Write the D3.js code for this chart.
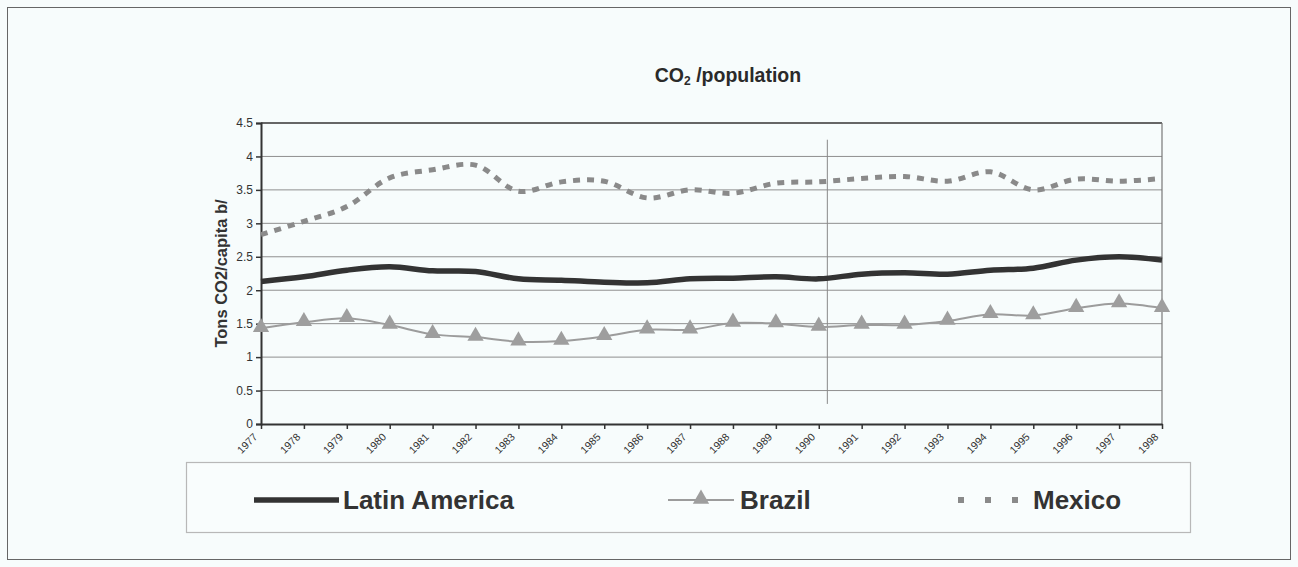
<!DOCTYPE html>
<html>
<head>
<meta charset="utf-8">
<script src="https://cdn.jsdelivr.net/npm/d3@7"></script>
<style>
  html, body { margin: 0; padding: 0; background: #f7fcfc; }
  svg { display: block; }
</style>
</head>
<body>
<svg id="chart" width="1298" height="567"></svg>
<script>
// Years on the category axis
const years = [1977, 1978, 1979, 1980, 1981, 1982, 1983, 1984, 1985, 1986, 1987,
               1988, 1989, 1990, 1991, 1992, 1993, 1994, 1995, 1996, 1997, 1998];

// Tons of CO2 per capita
const latinAmerica = [2.13, 2.20, 2.30, 2.35, 2.29, 2.28, 2.17, 2.15, 2.12, 2.11, 2.17,
                      2.18, 2.20, 2.17, 2.24, 2.26, 2.24, 2.30, 2.33, 2.45, 2.50, 2.45];
const brazil       = [1.43, 1.52, 1.58, 1.48, 1.34, 1.30, 1.23, 1.24, 1.31, 1.41, 1.41,
                      1.51, 1.50, 1.45, 1.48, 1.48, 1.54, 1.64, 1.62, 1.73, 1.80, 1.73];
const mexico       = [2.83, 3.03, 3.25, 3.68, 3.80, 3.87, 3.48, 3.62, 3.63, 3.38, 3.50,
                      3.45, 3.60, 3.62, 3.67, 3.70, 3.63, 3.77, 3.50, 3.66, 3.63, 3.67];

const yTicks = [0, 0.5, 1, 1.5, 2, 2.5, 3, 3.5, 4, 4.5];
const yTickLabels = ["0", "0.5", "1", "1.5", "2", "2.5", "3", "3.5", "4", "4.5"];

// Position of the thin vertical separator, in axis units (year index)
const dividerIndex = 13.2;

const seriesNames = ["Latin America", "Brazil", "Mexico"];

const svg = d3.select("#chart");
const font = "Liberation Sans, Arial, sans-serif";

// Outer frame
svg.append("rect")
  .attr("x", 7.5).attr("y", 7.5).attr("width", 1283).attr("height", 552)
  .attr("fill", "#f7fcfc").attr("stroke", "#666").attr("stroke-width", 1);

// Title
const title = svg.append("text")
  .attr("x", 728).attr("y", 82)
  .attr("text-anchor", "middle")
  .attr("font-family", font)
  .attr("font-weight", "bold").attr("font-size", 19.5).attr("fill", "#2a2a2a");
title.append("tspan").text("CO");
title.append("tspan").attr("font-size", 12).attr("dy", 3).text("2");
title.append("tspan").attr("dy", -3).text(" /population");

const plot = { left: 261, right: 1162, top: 123, bottom: 424 };

const x = d3.scaleLinear().domain([0, years.length - 1]).range([plot.left, plot.right]);
const y = d3.scaleLinear().domain([0, 4.5]).range([plot.bottom, plot.top]);

// Horizontal gridlines
svg.append("g")
  .selectAll("line")
  .data(yTicks.filter(d => d > 0))
  .join("line")
  .attr("x1", plot.left).attr("x2", plot.right)
  .attr("y1", d => y(d)).attr("y2", d => y(d))
  .attr("stroke", d => d === 4.5 ? "#666" : "#8f8f8f")
  .attr("stroke-width", d => d === 4.5 ? 1.8 : 1);

// Right border of the plot area
svg.append("line")
  .attr("x1", plot.right).attr("x2", plot.right)
  .attr("y1", plot.top).attr("y2", plot.bottom)
  .attr("stroke", "#777").attr("stroke-width", 1.2);

// Thin vertical separator
svg.append("line")
  .attr("x1", x(dividerIndex)).attr("x2", x(dividerIndex))
  .attr("y1", y(4.25)).attr("y2", y(0.3))
  .attr("stroke", "#888").attr("stroke-width", 1);

// Y axis
const yAxis = d3.axisLeft(y)
  .tickValues(yTicks)
  .tickFormat((d, i) => yTickLabels[i])
  .tickSize(5).tickPadding(3);
const yg = svg.append("g").attr("transform", `translate(${plot.left},0)`).call(yAxis);
yg.attr("font-size", 12);
yg.select(".domain").attr("stroke", "#333").attr("stroke-width", 2);
yg.selectAll(".tick line").attr("stroke", "#333").attr("stroke-width", 1.5);
yg.selectAll(".tick text")
  .attr("font-family", font)
  .attr("font-size", 12).attr("fill", "#333");

// X axis
const xAxis = d3.axisBottom(x)
  .tickValues(d3.range(years.length))
  .tickFormat(i => years[i])
  .tickSize(5).tickSizeOuter(0).tickPadding(2);
const xg = svg.append("g").attr("transform", `translate(0,${plot.bottom})`).call(xAxis);
xg.select(".domain").attr("stroke", "#333").attr("stroke-width", 2);
xg.selectAll(".tick line").attr("stroke", "#333").attr("stroke-width", 1.5);
xg.selectAll(".tick text")
  .attr("font-family", font)
  .attr("font-size", 10.5).attr("fill", "#333")
  .attr("text-anchor", "end")
  .attr("x", 0).attr("y", 0).attr("dx", 0).attr("dy", "0.35em")
  .attr("transform", "translate(-6,11) rotate(-45)");

// Y axis title
svg.append("text")
  .attr("transform", `translate(227,${(plot.top + plot.bottom) / 2}) rotate(-90)`)
  .attr("text-anchor", "middle")
  .attr("font-family", font)
  .attr("font-weight", "bold").attr("font-size", 16.5).attr("fill", "#333")
  .text("Tons CO2/capita b/");

// Series
const line = d3.line()
  .x((d, i) => x(i))
  .y(d => y(d))
  .curve(d3.curveCatmullRom.alpha(0.5));

svg.append("path")
  .datum(mexico)
  .attr("d", line)
  .attr("fill", "none").attr("stroke", "#8a8a8a")
  .attr("stroke-width", 5).attr("stroke-dasharray", "7,7");

svg.append("path")
  .datum(latinAmerica)
  .attr("d", line)
  .attr("fill", "none").attr("stroke", "#333")
  .attr("stroke-width", 5.5);

svg.append("path")
  .datum(brazil)
  .attr("d", line)
  .attr("fill", "none").attr("stroke", "#9c9c9c")
  .attr("stroke-width", 2);

const tri = d3.symbol().type(d3.symbolTriangle).size(115);
svg.append("g")
  .selectAll("path")
  .data(brazil)
  .join("path")
  .attr("d", tri)
  .attr("transform", (d, i) => `translate(${x(i)},${y(d) - 1})`)
  .attr("fill", "#9e9e9e");

// Legend
const legend = svg.append("g");
legend.append("rect")
  .attr("x", 186.5).attr("y", 462.5).attr("width", 1004).attr("height", 70)
  .attr("fill", "#f9fdfd").attr("stroke", "#b8b8b8").attr("stroke-width", 1.2);

const legendItems = [
  { name: seriesNames[0], x0: 254, x1: 339, tx: 343 },
  { name: seriesNames[1], x0: 668, x1: 734, tx: 740 },
  { name: seriesNames[2], x0: 958, x1: 1018, tx: 1033 }
];
const ly = 500;

legend.append("line")
  .attr("x1", legendItems[0].x0).attr("x2", legendItems[0].x1)
  .attr("y1", ly).attr("y2", ly)
  .attr("stroke", "#333").attr("stroke-width", 5.5);

legend.append("line")
  .attr("x1", legendItems[1].x0).attr("x2", legendItems[1].x1)
  .attr("y1", ly).attr("y2", ly)
  .attr("stroke", "#9c9c9c").attr("stroke-width", 2);
legend.append("path")
  .attr("d", tri)
  .attr("transform", `translate(${(legendItems[1].x0 + legendItems[1].x1) / 2},${ly - 1})`)
  .attr("fill", "#9e9e9e");

legend.append("line")
  .attr("x1", legendItems[2].x0).attr("x2", legendItems[2].x1)
  .attr("y1", ly).attr("y2", ly)
  .attr("stroke", "#8a8a8a").attr("stroke-width", 6)
  .attr("stroke-dasharray", "6,21");

legend.selectAll("text.lab")
  .data(legendItems)
  .join("text")
  .attr("class", "lab")
  .attr("x", d => d.tx).attr("y", ly + 9)
  .attr("font-family", font)
  .attr("font-weight", "bold").attr("font-size", 26).attr("fill", "#333")
  .text(d => d.name);
</script>
</body>
</html>
